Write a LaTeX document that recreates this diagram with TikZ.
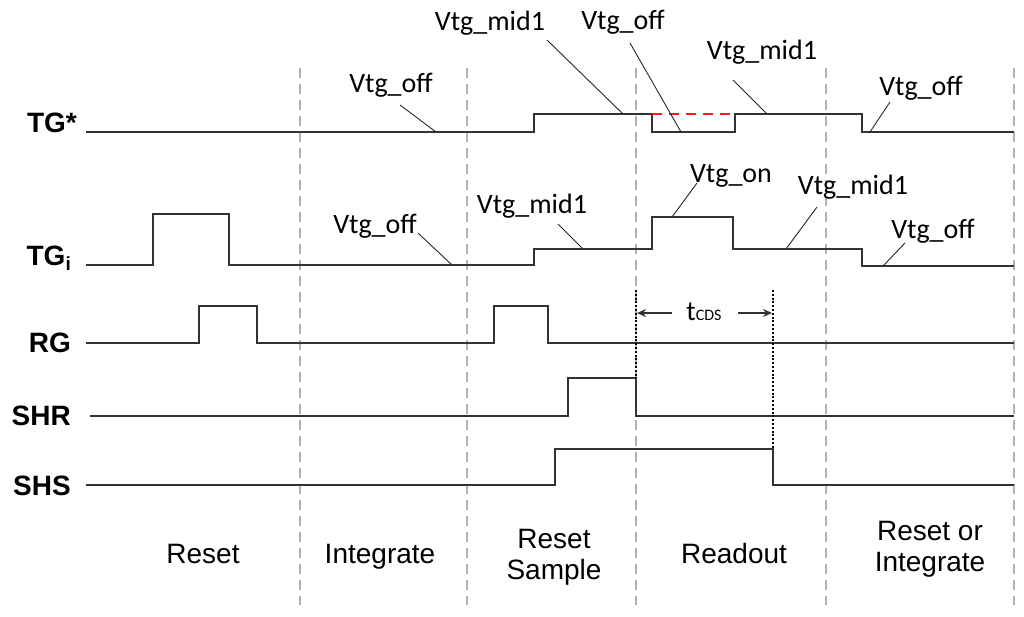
\documentclass[tikz,border=0pt]{standalone}
\usepackage{fontspec}
\setmainfont{Liberation Sans}
\newfontfamily\annfont{Carlito}
\usetikzlibrary{arrows.meta}
\begin{document}
\begin{tikzpicture}[x=1pt,y=-1pt,
  sig/.style={line width=1.6pt, draw=black!80, line join=miter},
  phase/.style={draw=black!30, line width=1.2pt, dash pattern=on 10pt off 6pt},
  lead/.style={draw=black!85, line width=0.9pt},
  reddash/.style={draw=red!90, line width=1.4pt, dash pattern=on 10pt off 7pt},
  dotln/.style={draw=black, line width=2.4pt, dash pattern=on 2pt off 1.8pt},
  cdsarrow/.style={draw=black!80, line width=2.2pt, -{Stealth[length=9pt,width=8pt]}},
  ann/.style={font=\annfont\fontsize{28}{30}\selectfont, inner sep=0pt, anchor=base},
  signame/.style={font=\bfseries\fontsize{28}{30}\selectfont, inner sep=0pt, anchor=base east},
  phaselbl/.style={font=\fontsize{28}{31}\selectfont, align=center, inner sep=0pt}]
\useasboundingbox (0,0) rectangle (1024,616);
\fill[white] (0,0) rectangle (1024,616);

% phase separators
\foreach \x/\n in {300/a,467/b,636/c,826/d,1014/e}{
  \coordinate (pt\n) at (\x,68);
  \coordinate (pb\n) at (\x,605);
  \draw[phase] (pt\n) -- (pb\n);
}

% signal names
\node[signame] (tgs) at (77,132) {TG*};
\node[signame] (tgi) at (71,265) {TG\raisebox{-0.18em}{\fontsize{19}{19}\selectfont i}};
\node[signame] (rg) at (71,352) {RG};
\node[signame] (shr) at (71,425) {SHR};
\node[signame] (shs) at (71,495) {SHS};

% waveforms
\draw[sig] (86,132) -- (534,132) -- (534,114) -- (652,114) -- (652,132) -- (735,132)
  -- (735,114) -- (862,114) -- (862,132) -- (1014,132);
\draw[reddash] (652,114) -- (735,114);
\draw[sig] (86,265) -- (153,265) -- (153,214) -- (229,214) -- (229,265) -- (534,265)
  -- (534,249) -- (652,249) -- (652,217) -- (733,217) -- (733,249) -- (862,249)
  -- (862,266) -- (1014,266);
\draw[sig] (86,343) -- (199,343) -- (199,306) -- (257,306) -- (257,343) -- (494,343)
  -- (494,306) -- (548,306) -- (548,343) -- (1014,343);
\draw[sig] (90,416) -- (568,416) -- (568,378) -- (636,378) -- (636,416) -- (1014,416);
\draw[sig] (86,485) -- (555,485) -- (555,449) -- (773,449) -- (773,485) -- (1014,485);

% TG* annotations
\node[ann] (a1) at (391,92) {Vtg\_off};
\node[ann] (a2) at (490,30) {Vtg\_mid1};
\node[ann] (a3) at (623,29) {Vtg\_off};
\node[ann] (a4) at (762,59) {Vtg\_mid1};
\node[ann] (a5) at (921,95) {Vtg\_off};
\coordinate (a1s) at (400,105); \coordinate (a1e) at (436,132);
\coordinate (a2s) at (547,40);  \coordinate (a2e) at (623,114);
\coordinate (a3s) at (630,43);  \coordinate (a3e) at (681,132);
\coordinate (a4s) at (733,80);  \coordinate (a4e) at (767,114);
\coordinate (a5s) at (890,102); \coordinate (a5e) at (870,132);
\foreach \k in {1,...,5}{\draw[lead] (a\k s) -- (a\k e);}

% TGi annotations
\node[ann] (b1) at (375,233) {Vtg\_off};
\node[ann] (b2) at (532,213) {Vtg\_mid1};
\node[ann] (b3) at (731,182) {Vtg\_on};
\node[ann] (b4) at (853,194) {Vtg\_mid1};
\node[ann] (b5) at (933,238) {Vtg\_off};
\coordinate (b1s) at (418,233); \coordinate (b1e) at (452,265);
\coordinate (b2s) at (558,224); \coordinate (b2e) at (583,249);
\coordinate (b3s) at (697,183); \coordinate (b3e) at (672,217);
\coordinate (b4s) at (817,207); \coordinate (b4e) at (786,249);
\coordinate (b5s) at (905,243); \coordinate (b5e) at (883,266);
\foreach \k in {1,...,5}{\draw[lead] (b\k s) -- (b\k e);}

% tCDS
\coordinate (d1t) at (636,290); \coordinate (d1b) at (636,378);
\coordinate (d2t) at (773,290); \coordinate (d2b) at (773,449);
\draw[dotln] (d1t) -- (d1b);
\draw[dotln] (d2t) -- (d2b);
\node[inner sep=0pt, anchor=base] (tcds) at (704,320)
  {\annfont\fontsize{28}{30}\selectfont t\fontsize{16}{18}\selectfont CDS};
\coordinate (l1) at (672,313); \coordinate (l2) at (637,313);
\coordinate (r1) at (738,313); \coordinate (r2) at (772,313);
\draw[cdsarrow] (l1) -- (l2);
\draw[cdsarrow] (r1) -- (r2);

% phase labels
\node[phaselbl, anchor=base] (p1) at (203,563) {Reset};
\node[phaselbl, anchor=base] (p2) at (380,563) {Integrate};
\node[phaselbl] (p3) at (554,557) {Reset\\Sample};
\node[phaselbl, anchor=base] (p4) at (734,563) {Readout};
\node[phaselbl] (p5) at (930,549) {Reset or\\Integrate};
\end{tikzpicture}
\end{document}
